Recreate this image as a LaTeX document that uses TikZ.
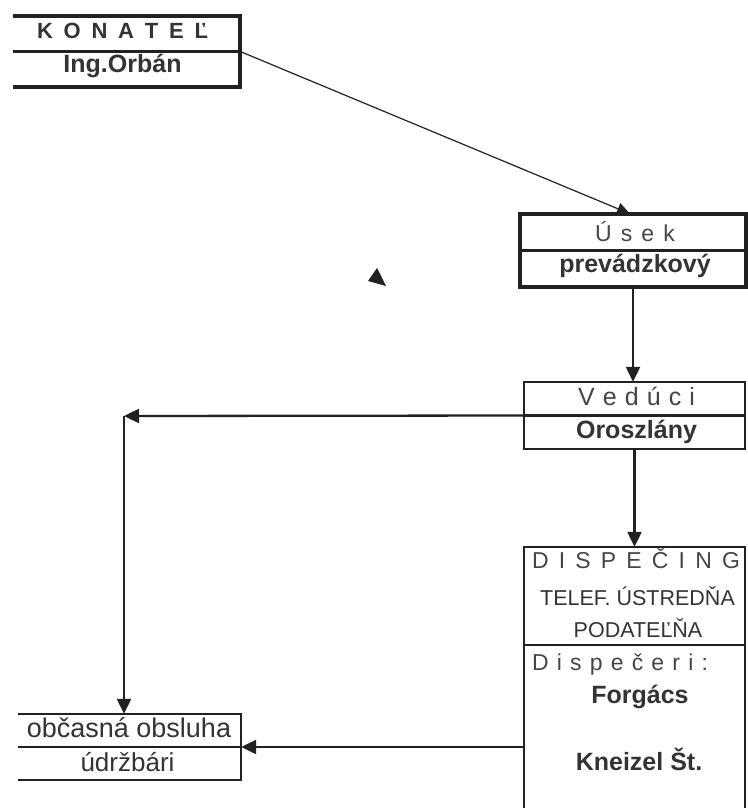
\documentclass[tikz,border=0pt]{standalone}
\usepackage{fontspec}
\setmainfont{Liberation Sans}
\usetikzlibrary{arrows.meta,calc}
\definecolor{ink}{rgb}{0.13,0.13,0.13}
\definecolor{txt}{rgb}{0.2,0.2,0.2}
\definecolor{txtl}{rgb}{0.27,0.27,0.27}
\newcommand\fs[1]{\fontsize{#1}{#1}\selectfont}
\begin{document}
\begin{tikzpicture}[x=1pt,y=-1pt,
  box/.style={draw=none,inner sep=0,rectangle},
  thickbox/.style={line width=3.6pt,draw=ink,line join=miter},
  thinbox/.style={line width=2.2pt,draw=ink,line join=miter},
  lbl/.style={inner sep=0,anchor=base,text=txt},
  lbll/.style={inner sep=0,anchor=base,text=txtl},
  arr/.style={draw=ink,line width=2.3pt,-{Triangle[length=15pt,width=14pt]}},
]
\useasboundingbox (0,0) rectangle (747,808);
% boxes
\node[box,minimum width=227pt,minimum height=71pt] (konatel) at (126.5,51.5) {};
\node[box,minimum width=226pt,minimum height=73pt] (usek) at (633,250.5) {};
\node[box,minimum width=221pt,minimum height=67pt] (veduci) at (634.5,415.5) {};
\node[box,minimum width=221pt,minimum height=261pt] (disp) at (634.5,677.5) {};
\node[box,minimum width=223pt,minimum height=66pt] (obsl) at (129.5,747) {};
% box outlines
\draw[thickbox] (konatel.north west) -- (konatel.north east) -- (konatel.south east) -- (konatel.south west);
\draw[thickbox,line width=2.2pt] (konatel.west) -- (konatel.east);
\draw[thickbox] (usek.north west) rectangle (usek.south east);
\draw[thickbox,line width=2.2pt] (usek.west) -- (usek.east);
\draw[thinbox] (veduci.north west) rectangle (veduci.south east);
\draw[thinbox] (veduci.west) -- (veduci.east);
\draw[thinbox] (disp.south west) -- (disp.north west) -- (disp.north east) -- (disp.south east);
\coordinate (dsplit) at (0,645);
\draw[thinbox] (disp.west |- dsplit) -- (disp.east |- dsplit);
\draw[thinbox] (obsl.north west) -- (obsl.north east) -- (obsl.south east) -- (obsl.south west);
\draw[thinbox] (obsl.west) -- (obsl.east);
% texts
\node[lbl] (t1) at (122.5,39) {\fs{22}\bfseries\makebox[171pt]{K\hfill O\hfill N\hfill A\hfill T\hfill E\hfill Ľ}};
\node[lbl] (t2) at (122.5,72) {\fs{25}\bfseries Ing.Orbán};
\node[lbll] (t3) at (635,241) {\fs{23}\makebox[80pt]{Ú\hfill s\hfill e\hfill k}};
\node[lbl] (t4) at (635,272) {\fs{25}\bfseries prevádzkový};
\node[lbll] (t5) at (636.5,405) {\fs{25}\makebox[117pt]{V\hfill e\hfill d\hfill ú\hfill c\hfill i}};
\node[lbl] (t6) at (636.5,438) {\fs{25}\bfseries Oroszlány};
\node[lbll] (t7) at (636,568) {\fs{23}\makebox[208pt]{D\hfill I\hfill S\hfill P\hfill E\hfill Č\hfill I\hfill N\hfill G}};
\node[lbl] (t8) at (637.5,605) {\fs{21.5}TELEF. ÚSTREDŇA};
\node[lbl] (t9) at (638,637) {\fs{21.5}PODATEĽŇA};
\node[lbll] (t10) at (620,670) {\fs{23}\makebox[176pt]{D\hfill i\hfill s\hfill p\hfill e\hfill č\hfill e\hfill r\hfill i\hfill :}};
\node[lbl] (t11) at (640,703) {\fs{25}\bfseries Forgács};
\node[lbl] (t12) at (639,770) {\fs{25}\bfseries Kneizel Št.};
\node[lbl] (t13) at (129,737) {\fs{27}občasná obsluha};
\node[lbl] (t14) at (127.5,771) {\fs{26}údržbári};
% connectors
\draw[arr,line width=1.2pt,-{Triangle[length=13pt,width=12pt]}] (konatel.east) -- ($(usek.north)+(-3,0)$);
\draw[arr] (usek.south) -- (veduci.north -| usek.south);
\coordinate (corner) at (124,416);
\draw[arr] (veduci.west) -- (corner);
\draw[arr] (corner) -- (corner |- obsl.north);
\draw[arr] (veduci.south) -- (disp.north);
\draw[arr] (obsl.east -| disp.west) -- (obsl.east);
% stray mark
\fill[ink] (377,268) -- (368,281) -- (386,286) -- cycle;
\end{tikzpicture}
\end{document}
